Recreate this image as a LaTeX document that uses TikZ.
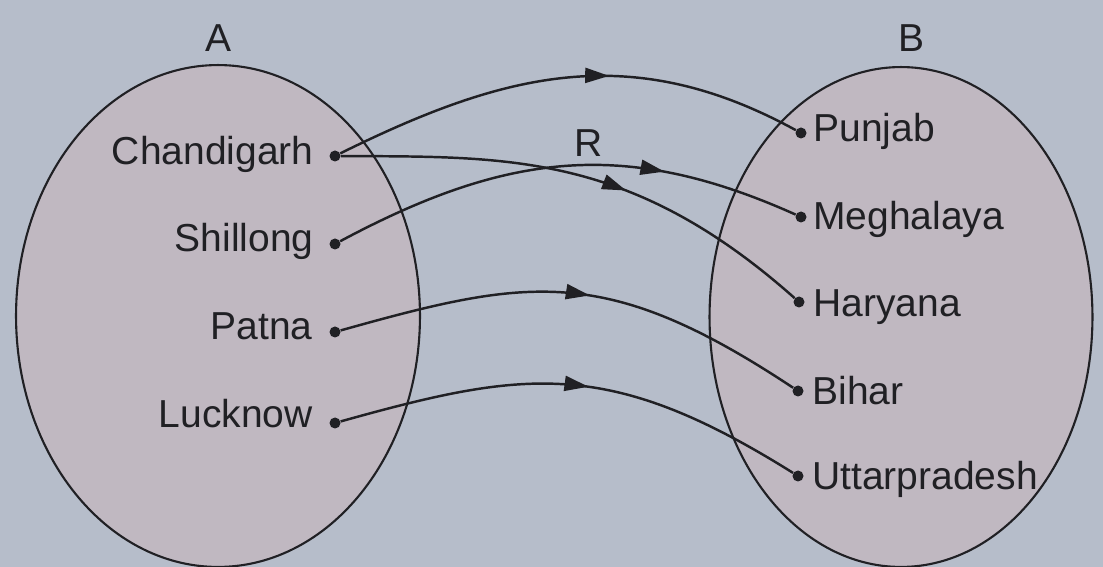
\documentclass[tikz,border=0pt]{standalone}
\usepackage{fontspec}
\setmainfont{Liberation Sans}
\usetikzlibrary{shapes.geometric,arrows.meta,decorations.markings}
\definecolor{paper}{RGB}{182,189,202}
\definecolor{setfill}{RGB}{192,184,193}
\definecolor{ink}{RGB}{32,32,36}

\begin{document}
\begin{tikzpicture}[x=0.02cm,y=-0.02cm,
      setbox/.style={ellipse,draw=ink,fill=setfill,line width=1.2pt,inner sep=0pt},
      elem/.style={circle,fill=ink,inner sep=0pt,minimum size=0.22cm},
      city/.style={text=ink,inner sep=0pt,font=\fontsize{22.2}{26}\selectfont},
      maps/.style={draw=ink,line width=1.4pt,postaction={decorate},
        decoration={markings,mark=at position #1 with {\arrow{Triangle[length=0.48cm,width=0.3cm]}}}}
    ]
      \useasboundingbox (0,0) rectangle (1103,567);
      \fill[paper] (0,0) rectangle (1103,567);
      \node[setbox,minimum width=8.08cm,minimum height=10.04cm] (setA) at (218,316) {};
      \node[setbox,minimum width=7.66cm,minimum height=10cm] (setB) at (901,317) {};
      \node[city,anchor=base] (lblA) at (219,52) {A};
      \node[city,anchor=base] (lblB) at (911,52) {B};
      \node[city,anchor=base] (lblR) at (589,157) {R};
      \node[elem] (chd) at (335,156) {};
      \node[elem] (shl) at (335,244) {};
      \node[elem] (pat) at (335,332) {};
      \node[elem] (luc) at (335,423) {};
      \node[elem] (pun) at (801,133) {};
      \node[elem] (meg) at (801,217) {};
      \node[elem] (har) at (799,302) {};
      \node[elem] (bih) at (798,391) {};
      \node[elem] (utt) at (798,476) {};
      \node[city,anchor=base east] (tchd) at (314,165) {Chandigarh};
      \node[city,anchor=base east] (tshl) at (314,252) {Shillong};
      \node[city,anchor=base east] (tpat) at (313,340) {Patna};
      \node[city,anchor=base east] (tluc) at (313,428) {Lucknow};
      \node[city,anchor=base west] (tpun) at (813,142) {Punjab};
      \node[city,anchor=base west] (tmeg) at (813,230) {Meghalaya};
      \node[city,anchor=base west] (thar) at (813,317) {Haryana};
      \node[city,anchor=base west] (tbih) at (812,405) {Bihar};
      \node[city,anchor=base west] (tutt) at (812,490) {Uttarpradesh};
      \draw[maps=0.59] (chd) .. controls (505,72) and (631,40) .. (pun);
      \draw[maps=0.59] (chd) .. controls (505,157) and (629,151) .. (har);
      \draw[maps=0.71] (shl) .. controls (509,151) and (627,139) .. (meg);
      \draw[maps=0.53] (pat) .. controls (528,278) and (605,263) .. (bih);
      \draw[maps=0.53] (luc) .. controls (525,370) and (608,357) .. (utt);
    \end{tikzpicture}
\end{document}
